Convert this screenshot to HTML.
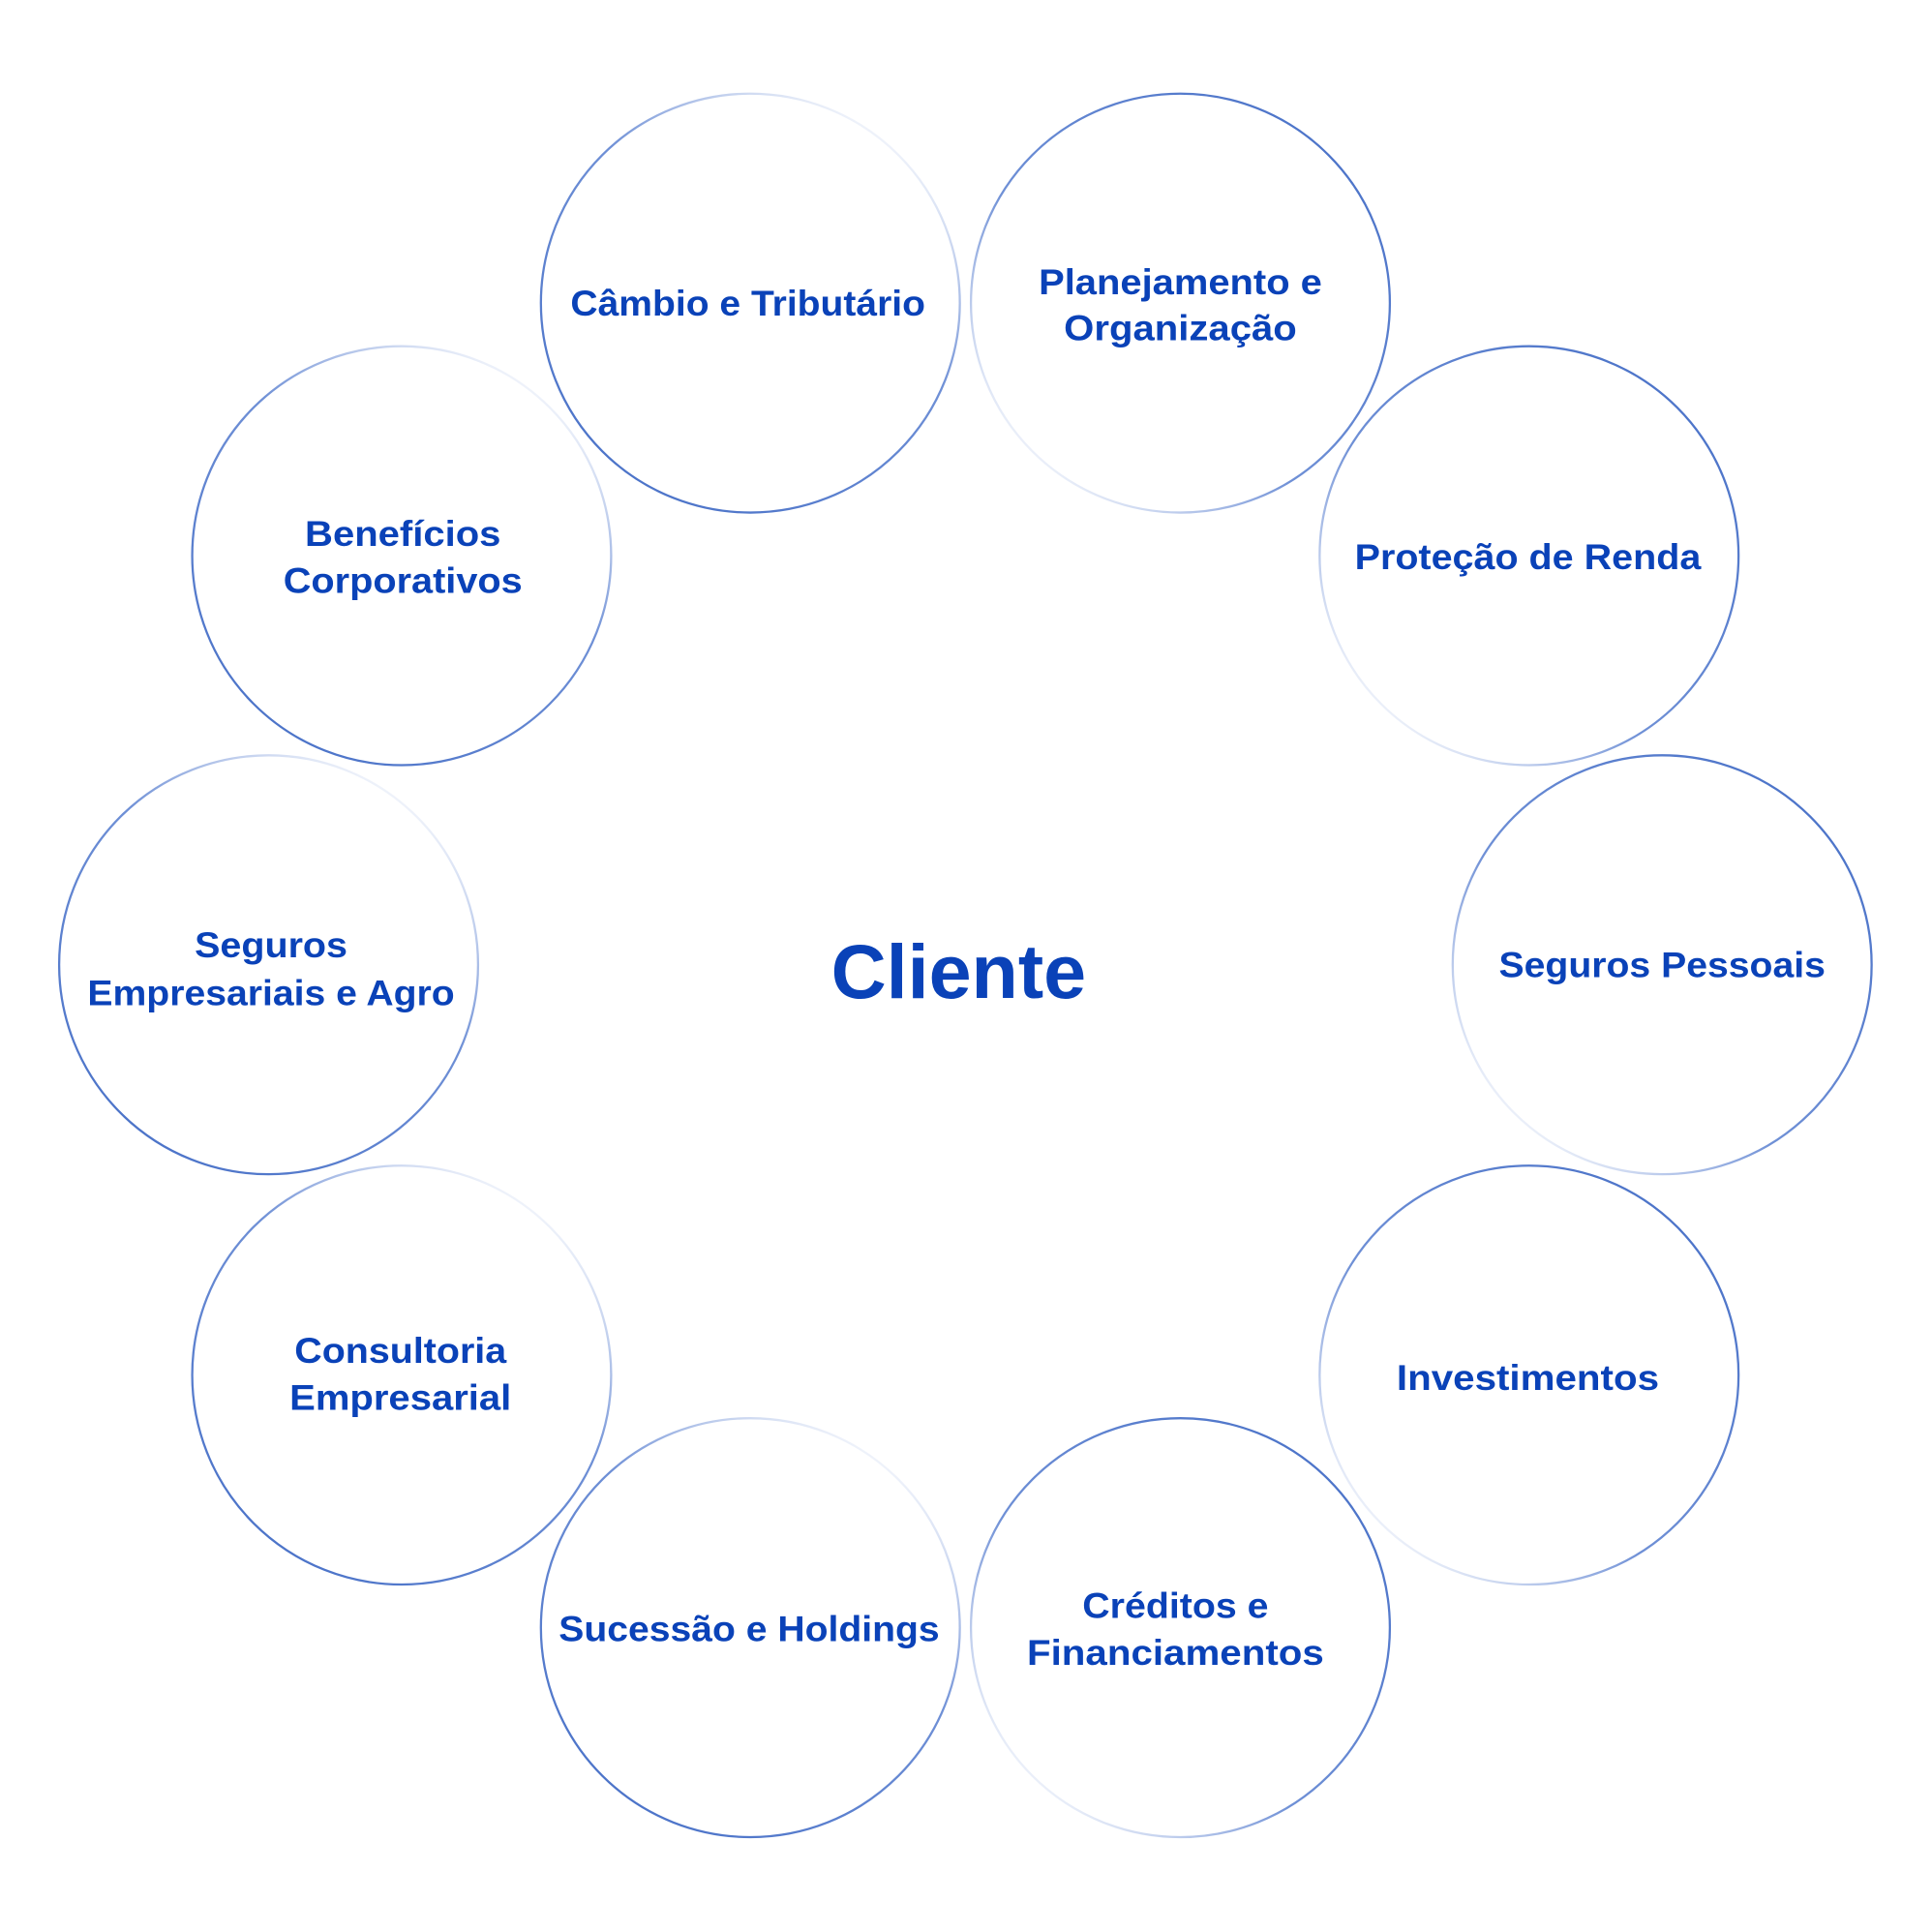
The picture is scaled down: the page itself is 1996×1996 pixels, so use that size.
<!DOCTYPE html>
<html><head><meta charset="utf-8"><style>
html,body{margin:0;padding:0;background:#fff;}
svg{display:block;}
text{font-family:"Liberation Sans",sans-serif;font-weight:bold;fill:#0a42b8;text-anchor:middle;}
</style></head><body>
<svg width="1996" height="1996" viewBox="0 0 1568 1568" xmlns="http://www.w3.org/2000/svg">
<defs>
<linearGradient id="g" x1="0.1" y1="0.9" x2="0.75" y2="0">
<stop offset="0" stop-color="#4a72c8"/>
<stop offset="0.6" stop-color="#6f90d6"/>
<stop offset="1" stop-color="#ffffff"/>
</linearGradient>
<linearGradient id="g2" x1="1" y1="0.2" x2="0.2" y2="1">
<stop offset="0" stop-color="#4a72c8"/>
<stop offset="0.6" stop-color="#6f90d6"/>
<stop offset="1" stop-color="#ffffff"/>
</linearGradient>
</defs>
<g fill="none" stroke-width="1.8">
<circle cx="609" cy="246" r="170" stroke="url(#g)"/>
<circle cx="958" cy="246" r="170" stroke="url(#g2)"/>
<circle cx="1241" cy="451" r="170" stroke="url(#g2)"/>
<circle cx="1349" cy="783" r="170" stroke="url(#g2)"/>
<circle cx="1241" cy="1116" r="170" stroke="url(#g2)"/>
<circle cx="958" cy="1321" r="170" stroke="url(#g2)"/>
<circle cx="609" cy="1321" r="170" stroke="url(#g)"/>
<circle cx="326" cy="1116" r="170" stroke="url(#g)"/>
<circle cx="218" cy="783" r="170" stroke="url(#g)"/>
<circle cx="326" cy="451" r="170" stroke="url(#g)"/>
</g>
<g font-size="29">
<text x="607" y="256" textLength="288" lengthAdjust="spacingAndGlyphs">Câmbio e Tributário</text>
<text x="958" y="239" textLength="230" lengthAdjust="spacingAndGlyphs">Planejamento e</text>
<text x="958" y="276" textLength="189" lengthAdjust="spacingAndGlyphs">Organização</text>
<text x="1240" y="462" textLength="281" lengthAdjust="spacingAndGlyphs">Proteção de Renda</text>
<text x="1349" y="793" textLength="265" lengthAdjust="spacingAndGlyphs">Seguros Pessoais</text>
<text x="1240" y="1128" textLength="213" lengthAdjust="spacingAndGlyphs">Investimentos</text>
<text x="954" y="1313" textLength="151" lengthAdjust="spacingAndGlyphs">Créditos e</text>
<text x="954" y="1351" textLength="241" lengthAdjust="spacingAndGlyphs">Financiamentos</text>
<text x="608" y="1332" textLength="309" lengthAdjust="spacingAndGlyphs">Sucessão e Holdings</text>
<text x="325" y="1106" textLength="172" lengthAdjust="spacingAndGlyphs">Consultoria</text>
<text x="325" y="1144" textLength="180" lengthAdjust="spacingAndGlyphs">Empresarial</text>
<text x="220" y="777" textLength="124" lengthAdjust="spacingAndGlyphs">Seguros</text>
<text x="220" y="816" textLength="298" lengthAdjust="spacingAndGlyphs">Empresariais e Agro</text>
<text x="327" y="443" textLength="159" lengthAdjust="spacingAndGlyphs">Benefícios</text>
<text x="327" y="481" textLength="194" lengthAdjust="spacingAndGlyphs">Corporativos</text>
</g>
<text x="778" y="810" font-size="62" textLength="207" lengthAdjust="spacingAndGlyphs">Cliente</text>
</svg>
</body></html>
